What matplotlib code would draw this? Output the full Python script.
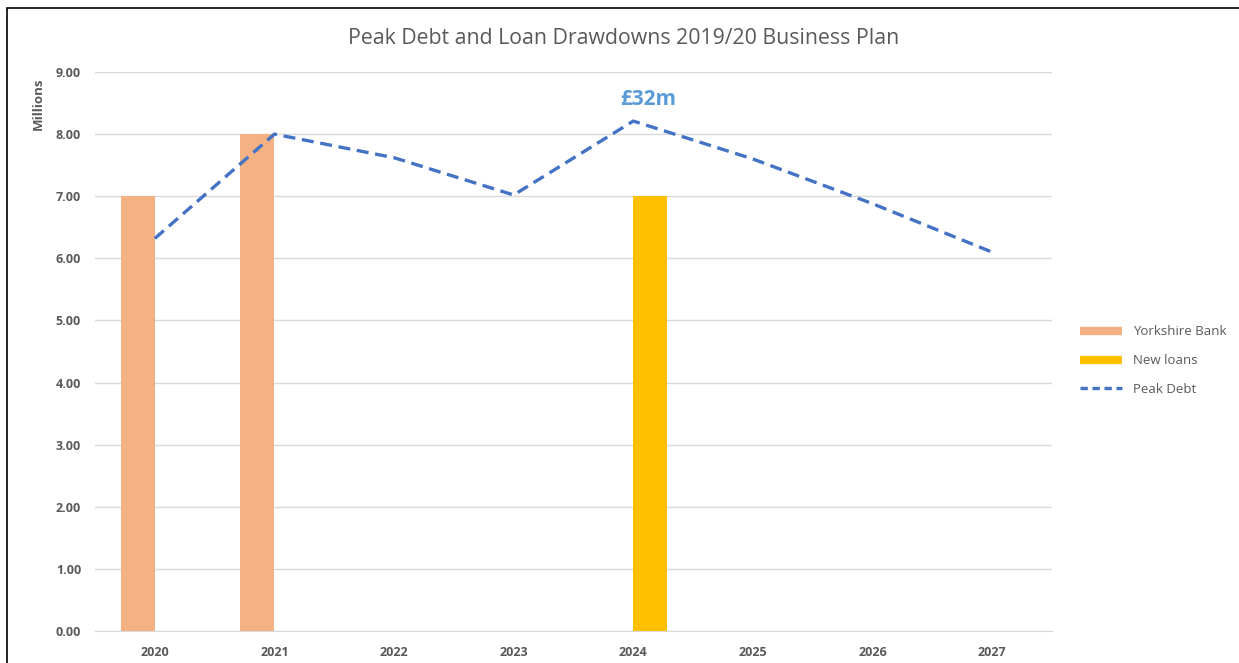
import matplotlib.pyplot as plt
import numpy as np
from matplotlib.lines import Line2D
from matplotlib.patches import Rectangle

years = ["2020", "2021", "2022", "2023", "2024", "2025", "2026", "2027"]
yorkshire_bank = [7.0, 8.0, 0, 0, 0, 0, 0, 0]
new_loans = [0, 0, 0, 0, 7.0, 0, 0, 0]
peak_debt = [6.32, 8.0, 7.62, 7.02, 8.21, 7.6, 6.88, 6.1]
peak_label = "£32m"

grey = "#595959"
plt.rcParams['font.family'] = ['Open Sans', 'DejaVu Sans']

fig = plt.figure(figsize=(12.39, 6.63), dpi=100)
ax = fig.add_axes([0.0767, 0.0483, 0.7723, 0.8431])

x = np.arange(len(years))
w = 1 / 3.5
ax.bar(x - w / 2, yorkshire_bank, w, color="#F4B183", zorder=2)
ax.bar(x + w / 2, new_loans, w, color="#FFC000", zorder=2)
ax.plot(x, peak_debt, color="#4472C4", lw=2.4, dashes=(3.6, 2.0), zorder=3)

ax.text(4.12, 8.56, peak_label, color="#5B9BD5", fontsize=15, fontweight="bold",
        ha="center", va="center")

ax.set_xlim(-0.5, 7.5)
ax.set_ylim(0, 9)
ax.set_yticks(np.arange(0, 9.5, 1))
ax.set_yticklabels(["%.2f" % v for v in np.arange(0, 9.5, 1)])
ax.set_xticks(x)
ax.set_xticklabels(years)
ax.tick_params(length=0, labelsize=9, labelcolor=grey)
ax.tick_params(axis="y", pad=10)
ax.tick_params(axis="x", pad=11)
for lab in ax.get_xticklabels() + ax.get_yticklabels():
    lab.set_fontweight("bold")
ax.grid(axis="y", color="#D9D9D9", lw=1, zorder=0)
for s in ["top", "right", "left"]:
    ax.spines[s].set_visible(False)
ax.spines["bottom"].set_color("#D9D9D9")

fig.text(0.031, 0.843, "Millions", rotation=90, ha="center", va="center",
         fontsize=9.5, fontweight="bold", color=grey)
fig.text(0.503, 0.942, "Peak Debt and Loan Drawdowns 2019/20 Business Plan",
         ha="center", va="center", fontsize=15.3, color=grey)

handles = [Line2D([], [], color="#F4B183", lw=6, solid_capstyle="butt"),
           Line2D([], [], color="#FFC000", lw=6, solid_capstyle="butt"),
           Line2D([], [], color="#4472C4", lw=2.4, dashes=(2.2, 1.4))]
leg = fig.legend(handles, ["Yorkshire Bank", "New loans", "Peak Debt"],
                 loc="center left", bbox_to_anchor=(0.862, 0.456), frameon=False,
                 fontsize=9.5, handlelength=3.2, labelspacing=1.2)
for t in leg.get_texts():
    t.set_color(grey)

fig.patches.append(Rectangle((0.006, -0.05), 1.1, 1.038, transform=fig.transFigure,
                             fill=False, edgecolor="black", lw=1.2))

fig.savefig("out.png", dpi=100)
